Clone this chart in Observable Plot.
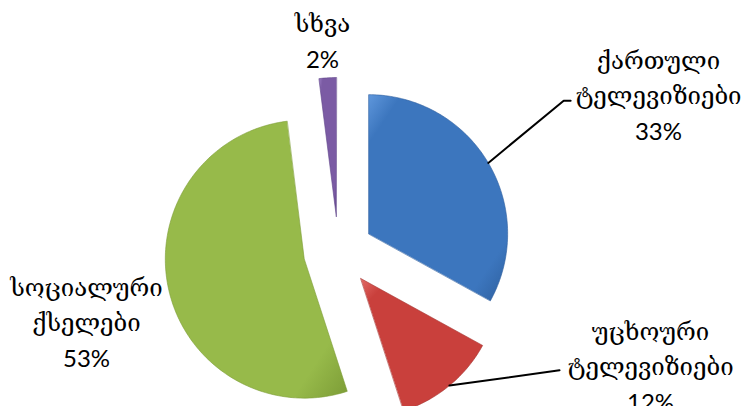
<!DOCTYPE html>
<html><head><meta charset="utf-8">
<script src="https://cdn.jsdelivr.net/npm/d3@7"></script>
<script src="https://cdn.jsdelivr.net/npm/@observablehq/plot@0.6"></script>
<style>body{margin:0;background:#fff}#chart svg{display:block}</style>
</head><body><div id="chart"></div>
<script>
// ---- data ----
const categories = ["ქართული ტელევიზიები", "უცხოური ტელევიზიები", "სოციალური ქსელები", "სხვა"];
const values = [33, 12, 53, 2];
const percentLabels = ["33%", "12%", "53%", "2%"];

// ---- layout (units of pie radius, centre = 0,0, y up) ----
const W = 752, H = 406, CX = 338, CY = 251, R = 139;
const explode = 0.252;
const labelX = [2.302, 2.245, -1.813, -0.115];
const labelTop = [1.36, -0.59, -0.27, 1.626];
const lineStep = 35 / R;
const elbowX = [[1.62, 1.67], [1.59]];  // leader bends for slices 0 and 1
const elbowY = [[1.085, 1.085], [-0.855]];
const baseColors = ["#3c76be", "#c9403c", "#97ba4a", "#7b5ba4"];
const lightColors = ["#5f97dc", "#e26a66", "#b3d46a", "#9a7cc2"];
const darkColors = ["#2d5e9d", "#a3302d", "#7c9c36", "#60448a"];

const arcs = d3.pie().sort(null).value(d => d)(values);
const slices = arcs.map((a, i) => {
  const mid = (a.startAngle + a.endAngle) / 2;
  const ox = explode * Math.sin(mid), oy = explode * Math.cos(mid);
  const pts = [{x: ox, y: oy}];
  const n = Math.max(4, Math.ceil((a.endAngle - a.startAngle) / 0.02));
  for (let k = 0; k <= n; k++) {
    const t = a.startAngle + (a.endAngle - a.startAngle) * k / n;
    pts.push({x: ox + Math.sin(t), y: oy + Math.cos(t)});
  }
  return {pts, mid, ox, oy};
});

const leaders = elbowX.map((xs, i) => {
  const s = slices[i];
  return [{x: s.ox + Math.sin(s.mid), y: s.oy + Math.cos(s.mid)}, ...xs.map((x, k) => ({x, y: elbowY[i][k]}))];
});

const wordRows = [], pctRows = [];
categories.forEach((c, i) => {
  const words = c.split(" ");
  words.forEach((w, k) => wordRows.push({x: labelX[i], y: labelTop[i] - k * lineStep, text: w}));
  pctRows.push({x: labelX[i], y: labelTop[i] - words.length * lineStep, text: percentLabels[i]});
});

const defs = () => {
  const d = d3.create("svg:defs");
  baseColors.forEach((c, i) => {
    const g = d.append("linearGradient").attr("id", "g" + i).attr("x1", 0).attr("y1", 0).attr("x2", 1).attr("y2", 1);
    g.append("stop").attr("offset", "0%").attr("stop-color", lightColors[i]);
    g.append("stop").attr("offset", "12%").attr("stop-color", c);
    g.append("stop").attr("offset", "85%").attr("stop-color", c);
    g.append("stop").attr("offset", "100%").attr("stop-color", darkColors[i]);
  });
  return d.node();
};

const chart = Plot.plot({
  width: W, height: H, margin: 0,
  x: {domain: [-CX / R, (W - CX) / R], axis: null},
  y: {domain: [(CY - H) / R, CY / R], axis: null},
  style: {background: "#fff"},
  marks: [
    defs,
    ...slices.map((s, i) => Plot.line(s.pts, {x: "x", y: "y", curve: "linear-closed", fill: `url(#g${i})`, stroke: darkColors[i], strokeWidth: 0.6})),
    ...leaders.map(l => Plot.line(l, {x: "x", y: "y", stroke: "#000", strokeWidth: 2})),
    Plot.text(wordRows, {x: "x", y: "y", text: "text", fontSize: 24, fontFamily: "'DejaVu Serif', 'DejaVu Sans', serif", fill: "#000", dy: -1}),
    Plot.text(pctRows, {x: "x", y: "y", text: "text", fontSize: 24, fontFamily: "'Liberation Sans Narrow', Lato, sans-serif", fill: "#000"})
  ]
});
document.getElementById("chart").append(chart);
</script></body></html>
